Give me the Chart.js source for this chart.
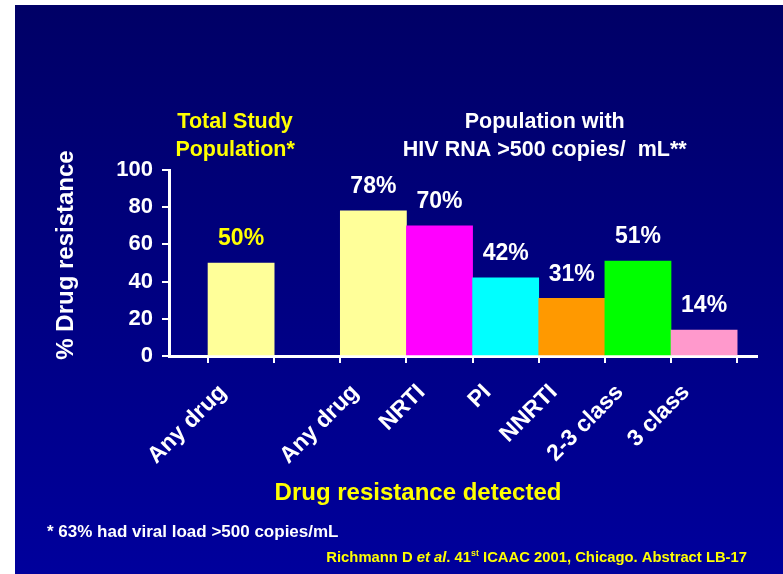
<!DOCTYPE html>
<html>
<head>
<meta charset="utf-8">
<script src="https://cdn.jsdelivr.net/npm/chart.js@4/dist/chart.umd.min.js"></script>
<style>
  html, body { margin: 0; padding: 0; background: #ffffff; }
  #wrap { position: relative; width: 783px; height: 574px; }
</style>
</head>
<body>
<div id="wrap"><canvas id="chart" width="783" height="574"></canvas></div>
<script>
// Categories along the x axis (the empty slot separates the two populations)
const categories = ['Any drug', '', 'Any drug', 'NRTI', 'PI', 'NNRTI', '2-3 class', '3 class'];
// % with drug resistance in each category
const resistance = [50, null, 78, 70, 42, 31, 51, 14];
const barColors = ['#FFFF99', null, '#FFFF99', '#FF00FF', '#00FFFF', '#FF9900', '#00FF00', '#FF99CC'];
const valueLabelColors = ['#FFFF00', null, '#FFFFFF', '#FFFFFF', '#FFFFFF', '#FFFFFF', '#FFFFFF', '#FFFFFF'];
const yTicks = [0, 20, 40, 60, 80, 100];

const groupTitleLeft = ['Total Study', 'Population*'];
const groupTitleRight = ['Population with', 'HIV RNA >500 copies/  mL**'];
const yTitle = '% Drug resistance';
const xTitle = 'Drug resistance detected';
const footnote = '* 63% had viral load >500 copies/mL';
const citationParts = [
  { text: 'Richmann D ', style: 'bold' },
  { text: 'et al', style: 'italic bold' },
  { text: '. 41', style: 'bold' },
  { text: 'st', style: 'bold', sup: true },
  { text: ' ICAAC 2001, Chicago. Abstract LB-17', style: 'bold' }
];

const FONT = "'Liberation Sans', Arial, Helvetica, sans-serif";
const YELLOW = '#FFFF00';

// Bars sit in the middle of each category slot on a linear scale
const points = resistance.map((v, i) => ({ x: i + 0.5, y: v }));

const backgroundPlugin = {
  id: 'slideBackground',
  beforeDraw(chart) {
    const { ctx, width, height } = chart;
    ctx.save();
    ctx.fillStyle = '#ffffff';
    ctx.fillRect(0, 0, width, height);
    const g = ctx.createLinearGradient(0, 5, 0, height);
    g.addColorStop(0, '#000066');
    g.addColorStop(1, '#00009C');
    ctx.fillStyle = g;
    ctx.fillRect(15, 5, width - 15, height - 5);
    ctx.restore();
  }
};

const textPlugin = {
  id: 'slideText',
  afterDatasetsDraw(chart) {
    const { ctx } = chart;
    const meta = chart.getDatasetMeta(0);
    ctx.save();
    // value labels above bars
    ctx.font = 'bold 23px ' + FONT;
    ctx.textAlign = 'center';
    ctx.textBaseline = 'middle';
    meta.data.forEach((bar, i) => {
      const v = resistance[i];
      if (v === null || v === undefined) return;
      ctx.fillStyle = valueLabelColors[i];
      ctx.fillText(v + '%', bar.x, bar.y - 24);
    });
    ctx.restore();
  },
  afterDraw(chart) {
    const { ctx, chartArea } = chart;
    const xs = chart.scales.x;
    ctx.save();
    ctx.textAlign = 'center';
    ctx.textBaseline = 'middle';
    // group headings
    ctx.font = 'bold 21.5px ' + FONT;
    ctx.fillStyle = YELLOW;
    const leftX = xs.getPixelForValue(0.5) - 6;
    groupTitleLeft.forEach((t, k) => ctx.fillText(t, leftX, chartArea.top - 48 + k * 28));
    ctx.fillStyle = '#FFFFFF';
    const rightX = (xs.getPixelForValue(2) + xs.getPixelForValue(8)) / 2 + 6;
    groupTitleRight.forEach((t, k) => ctx.fillText(t, rightX, chartArea.top - 48 + k * 28));

    // y axis title
    ctx.save();
    ctx.translate(66, 255);
    ctx.rotate(-Math.PI / 2);
    ctx.font = 'bold 24px ' + FONT;
    ctx.fillStyle = '#FFFFFF';
    ctx.fillText(yTitle, 0, 0);
    ctx.restore();

    // x axis title
    ctx.font = 'bold 24px ' + FONT;
    ctx.fillStyle = YELLOW;
    ctx.fillText(xTitle, 418, 493);

    // footnote
    ctx.textAlign = 'left';
    ctx.textBaseline = 'alphabetic';
    ctx.font = 'bold 17px ' + FONT;
    ctx.fillStyle = '#FFFFFF';
    ctx.fillText(footnote, 47, 537);

    // citation, right aligned
    const size = 14.8;
    let total = 0;
    citationParts.forEach(p => {
      ctx.font = p.style + ' ' + (p.sup ? size * 0.6 : size) + 'px ' + FONT;
      p.w = ctx.measureText(p.text).width;
      total += p.w;
    });
    let cx = 747 - total;
    ctx.fillStyle = YELLOW;
    citationParts.forEach(p => {
      ctx.font = p.style + ' ' + (p.sup ? size * 0.6 : size) + 'px ' + FONT;
      ctx.fillText(p.text, cx, p.sup ? 556 : 562);
      cx += p.w;
    });
    ctx.restore();
  }
};

new Chart(document.getElementById('chart'), {
  type: 'bar',
  data: {
    datasets: [{
      data: points,
      backgroundColor: barColors,
      borderWidth: 0,
      barPercentage: 1,
      categoryPercentage: 1
    }]
  },
  options: {
    responsive: false,
    animation: false,
    events: [],
    layout: { padding: { left: 109, right: 26, top: 170, bottom: 78 } },
    plugins: { legend: { display: false }, tooltip: { enabled: false }, title: { display: false } },
    scales: {
      x: {
        type: 'linear',
        offset: false,
        min: -0.59,
        max: 8.3,
        afterBuildTicks(scale) {
          scale.ticks = categories.concat(['']).map((_, i) => ({ value: i }));
        },
        afterFit(scale) { scale.height = 140; },
        border: { color: '#FFFFFF', width: 3 },
        grid: { offset: false, drawOnChartArea: false, color: '#FFFFFF', lineWidth: 2, tickLength: 7 },
        ticks: {
          autoSkip: false,
          minRotation: 45,
          maxRotation: 45,
          labelOffset: 15,
          padding: 16,
          color: '#FFFFFF',
          font: { family: FONT, size: 23, weight: 'bold' },
          callback(value, index) { return categories[index] || ''; }
        }
      },
      y: {
        min: 0,
        max: 100,
        afterBuildTicks(scale) { scale.ticks = yTicks.map(v => ({ value: v })); },
        afterFit(scale) { scale.width = 60; },
        border: { color: '#FFFFFF', width: 3 },
        grid: { drawOnChartArea: false, color: '#FFFFFF', lineWidth: 2, tickLength: 7 },
        ticks: {
          padding: 9,
          color: '#FFFFFF',
          font: { family: FONT, size: 22, weight: 'bold' }
        }
      }
    }
  },
  plugins: [backgroundPlugin, textPlugin]
});
</script>
</body>
</html>
